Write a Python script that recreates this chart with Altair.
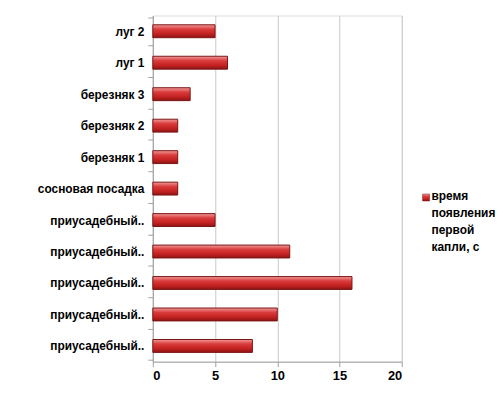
import altair as alt
import pandas as pd

categories = ["луг 2", "луг 1", "березняк 3", "березняк 2", "березняк 1",
              "сосновая посадка", "приусадебный..", "приусадебный..",
              "приусадебный..", "приусадебный..", "приусадебный.."]
values = [5, 6, 3, 2, 2, 2, 5, 11, 16, 10, 8]
series_name = "время появления первой капли, с"
legend_lines = ["время", "появления", "первой", "капли, с"]
x_ticks = [0, 5, 10, 15, 20]

df = pd.DataFrame({"idx": list(range(len(categories))), "cat": categories, "v": values})
label_expr = "[" + ",".join("'" + c + "'" for c in categories) + "][datum.value]"

FONT = "Liberation Sans"

grad = alt.LinearGradient(
    gradient="linear", x1=0, x2=0, y1=0, y2=1,
    stops=[alt.GradientStop(color="#f19a9a", offset=0),
           alt.GradientStop(color="#d93a3a", offset=0.35),
           alt.GradientStop(color="#c42222", offset=0.7),
           alt.GradientStop(color="#8e1414", offset=1)])

bars = alt.Chart(df).mark_bar(fill=grad, stroke="#7a1515", strokeWidth=1, size=13).encode(
    x=alt.X("v:Q", scale=alt.Scale(domain=[0, 20]),
            axis=alt.Axis(values=x_ticks, title=None, grid=True, gridColor="#c8c8c8",
                          domainColor="#a0a0a0", tickColor="#a0a0a0", tickSize=5,
                          labelFont=FONT, labelFontSize=13, labelFontWeight="bold",
                          labelColor="#000", labelPadding=3)),
    y=alt.Y("idx:O", sort=None,
            axis=alt.Axis(title=None, labelExpr=label_expr, tickBand="extent",
                          domainColor="#a0a0a0", tickColor="#a0a0a0", tickSize=5,
                          labelFont=FONT, labelFontSize=12, labelFontWeight="bold",
                          labelColor="#000", labelPadding=4, labelLimit=200)),
)

leg_df = pd.DataFrame({"name": [series_name]})
leg_sq = alt.Chart(leg_df).mark_rect(fill=grad, stroke="#7a1515", strokeWidth=0.5).encode(
    x=alt.value(272), x2=alt.value(279), y=alt.value(180), y2=alt.value(187))
leg_txt = alt.Chart(leg_df).mark_text(
    align="left", baseline="top", font=FONT, fontSize=12, fontWeight="bold",
    lineHeight=17, color="#000").encode(
    x=alt.value(281), y=alt.value(177), text=alt.value(legend_lines))

chart = alt.layer(bars, leg_sq, leg_txt).properties(
    width=251, height=349,
    autosize=alt.AutoSizeParams(type="none"),
    padding={"left": 146, "top": 6, "right": 95, "bottom": 28},
).configure_view(stroke=None).configure(background="white")

chart.save("out.html", embed_options={"renderer": "svg", "actions": False})
